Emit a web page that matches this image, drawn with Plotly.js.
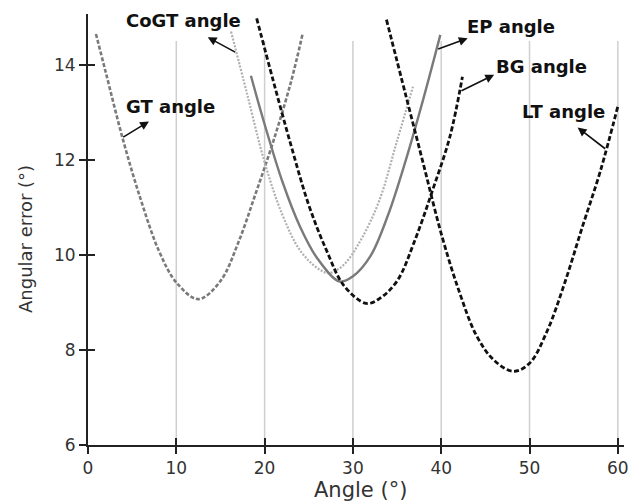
<!DOCTYPE html>
<html>
<head>
<meta charset="utf-8">
<script src="https://cdn.plot.ly/plotly-3.0.1.min.js"></script>
<style>html,body{margin:0;padding:0;background:#fff;}#chart{width:641px;height:504px;}</style>
</head>
<body>
<div id="chart"></div>
<script>
// Data (Angle in degrees, Angular error in degrees)
const gtX   = [0.9, 2, 4, 6, 8, 10, 12.5, 15, 17, 19, 21, 23, 24.3];
const gtY   = [14.65, 13.85, 12.4, 11.15, 10.1, 9.42, 9.07, 9.45, 10.25, 11.3, 12.4, 13.65, 14.65];

const cogtX = [16.2, 18, 20, 22, 24, 26, 27.3, 29, 31, 33, 35, 36.8];
const cogtY = [14.7, 13.4, 11.95, 10.85, 10.1, 9.72, 9.62, 9.8, 10.35, 11.15, 12.4, 13.54];

const epX   = [18.45, 20, 22, 24, 26, 28.5, 30, 32, 34, 36, 38, 39.9];
const epY   = [13.77, 12.75, 11.55, 10.6, 9.92, 9.44, 9.55, 9.98, 10.85, 12.0, 13.3, 14.63];

const bgX   = [19.1, 21, 23, 25, 27, 29, 31.5, 33, 35, 37, 39, 41, 42.4];
const bgY   = [14.98, 13.65, 12.3, 11.05, 10.1, 9.35, 8.98, 9.08, 9.45, 10.3, 11.35, 12.5, 13.75];

const ltX   = [33.8, 36, 38, 40, 42, 44, 46, 48.2, 50, 52, 54, 56, 58, 60.05];
const ltY   = [14.95, 13.35, 11.9, 10.45, 9.25, 8.3, 7.78, 7.55, 7.72, 8.4, 9.42, 10.6, 11.75, 13.16];

const xTicks = [0, 10, 20, 30, 40, 50, 60];
const yTicks = [6, 8, 10, 12, 14];
const gridX  = [10, 20, 30, 40, 50, 60];

const labels = [
  {text: 'CoGT angle', tx: 10.87, ty: 14.93, hx: 13.56, hy: 14.58, cx: 16.84, cy: 14.25},
  {text: 'GT angle',   tx: 9.3,   ty: 13.12, hx: 6.9,   hy: 12.81, cx: 3.82,  cy: 12.46},
  {text: 'EP angle',   tx: 47.9,  ty: 14.81, hx: 43.0,  hy: 14.56, cx: 39.49, cy: 14.32},
  {text: 'BG angle',   tx: 51.3,  ty: 13.96, hx: 46.0,  hy: 13.79, cx: 42.13, cy: 13.44},
  {text: 'LT angle',   tx: 53.9,  ty: 13.02, hx: 55.45, hy: 12.68, cx: 58.74, cy: 12.21}
];

const FONT = 'DejaVu Sans, Verdana, sans-serif';

const traces = [
  {x: gtX, y: gtY, mode: 'lines', line: {color: '#7a7a7a', width: 2.6, dash: '4px,2px', shape: 'spline', smoothing: 1}},
  {x: cogtX, y: cogtY, mode: 'lines', line: {color: '#b0b0b0', width: 2.2, dash: '2px,1.5px', shape: 'spline', smoothing: 1}},
  {x: epX, y: epY, mode: 'lines', line: {color: '#7a7a7a', width: 2.4, shape: 'spline', smoothing: 1}},
  {x: bgX, y: bgY, mode: 'lines', line: {color: '#111', width: 2.8, dash: '5px,2.5px', shape: 'spline', smoothing: 1}},
  {x: ltX, y: ltY, mode: 'lines', line: {color: '#111', width: 2.8, dash: '5px,2.5px', shape: 'spline', smoothing: 1}}
];

const shapes = gridX.map(g => ({
  type: 'line', xref: 'x', yref: 'y', x0: g, x1: g, y0: 6, y1: 14.5,
  line: {color: '#cfcfcf', width: 1.5}, layer: 'below'
}));

const annotations = [];
labels.forEach(l => {
  annotations.push({x: l.tx, y: l.ty, xref: 'x', yref: 'y', text: '<b>' + l.text + '</b>', showarrow: false,
    font: {family: FONT, size: 18, color: '#111'}});
  annotations.push({x: l.hx, y: l.hy, ax: l.cx, ay: l.cy, xref: 'x', yref: 'y', axref: 'x', ayref: 'y',
    text: '', showarrow: true, arrowhead: 2, arrowsize: 1.1, arrowwidth: 1.6, arrowcolor: '#111'});
});
// axis titles
annotations.push({xref: 'paper', yref: 'paper', x: 0.5075, y: -0.104, text: 'Angle (°)', showarrow: false,
  xanchor: 'center', yanchor: 'middle', font: {family: FONT, size: 21, color: '#333'}});
annotations.push({xref: 'paper', yref: 'paper', x: -0.1157, y: 0.478, text: 'Angular error (°)', showarrow: false,
  textangle: -90, xanchor: 'center', yanchor: 'middle', font: {family: FONT, size: 18, color: '#333'}});

const layout = {
  width: 641, height: 504,
  margin: {l: 88, r: 17, t: 14, b: 59},
  paper_bgcolor: '#fff', plot_bgcolor: '#fff',
  showlegend: false,
  font: {family: FONT, color: '#333'},
  xaxis: {
    range: [0, 60.7], tickvals: xTicks, ticktext: xTicks.map(String),
    showgrid: false, zeroline: false, showline: true, linecolor: '#222', linewidth: 2,
    ticks: 'outside', ticklen: 7, tickwidth: 2, tickcolor: '#222',
    tickfont: {family: FONT, size: 17, color: '#333'}
  },
  yaxis: {
    range: [6, 15.07], tickvals: yTicks, ticktext: yTicks.map(String),
    showgrid: false, zeroline: false, showline: true, linecolor: '#222', linewidth: 2,
    ticks: 'outside', ticklen: 7, tickwidth: 2, tickcolor: '#222',
    tickfont: {family: FONT, size: 17, color: '#333'}
  },
  xaxis2: {overlaying: 'x', range: [0, 60.7], tickvals: xTicks, showticklabels: false, showgrid: false,
    zeroline: false, showline: false, ticks: 'inside', ticklen: 7, tickwidth: 2, tickcolor: '#222'},
  yaxis2: {overlaying: 'y', range: [6, 15.07], tickvals: yTicks, showticklabels: false, showgrid: false,
    zeroline: false, showline: false, ticks: 'inside', ticklen: 7, tickwidth: 2, tickcolor: '#222'},
  shapes: shapes,
  annotations: annotations
};

// invisible trace to activate overlay axes
traces.push({x: [0], y: [6], xaxis: 'x2', yaxis: 'y2', mode: 'markers', marker: {opacity: 0}, hoverinfo: 'skip'});

Plotly.newPlot('chart', traces, layout, {staticPlot: true, displayModeBar: false});
</script>
</body>
</html>
